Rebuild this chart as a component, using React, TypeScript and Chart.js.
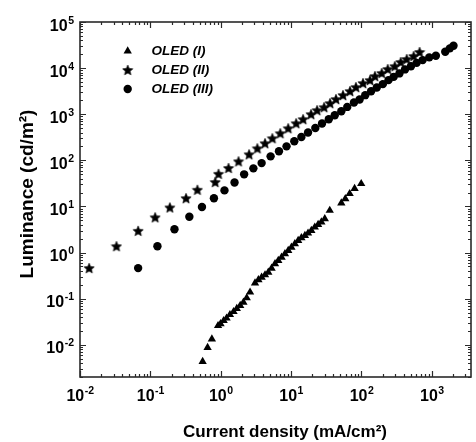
import React, { useEffect, useRef } from 'react';
import { Chart, registerables } from 'chart.js';

Chart.register(...registerables);

// ---- data (current density mA/cm², luminance cd/m²) ----
const oled1X = [0.553, 0.65, 0.748, 0.916, 0.993, 1.10, 1.21, 1.35, 1.52, 1.69, 1.89, 2.10, 2.34, 2.61, 3.07, 3.43, 3.81, 4.26, 4.74, 5.28, 5.90, 6.57, 7.32, 8.17, 9.10, 10.1, 11.3, 12.6, 14.0, 15.7, 17.4, 19.4, 21.7, 24.2, 26.9, 30.1, 35.4, 51.7, 58.9, 67.9, 79.8, 99.1];
const oled1Y = [0.00434, 0.0087, 0.0133, 0.0259, 0.0286, 0.0333, 0.0377, 0.0449, 0.0521, 0.0607, 0.0705, 0.0832, 0.1035, 0.138, 0.217, 0.255, 0.290, 0.327, 0.373, 0.456, 0.568, 0.670, 0.791, 0.937, 1.10, 1.30, 1.55, 1.82, 2.09, 2.34, 2.63, 3.01, 3.55, 4.06, 4.56, 5.41, 8.19, 11.8, 14.7, 18.9, 24.3, 31.1];

const oled2X = [0.0135, 0.033, 0.067, 0.117, 0.189, 0.321, 0.466, 0.835, 0.93, 1.29, 1.79, 2.53, 3.31, 4.26, 5.41, 7.02, 9.1, 11.8, 14.8, 19.2, 23.4, 29.4, 35.7, 43.4, 54.6, 68.6, 83.4, 105, 132, 155, 194, 236, 297, 361, 439, 551, 670];
const oled2Y = [0.46, 1.37, 2.96, 5.8, 9.5, 15.1, 23, 33.7, 51, 68, 95, 135, 182, 234, 301, 386, 496, 637, 778, 1000, 1220, 1420, 1730, 2120, 2590, 3160, 3860, 4720, 5480, 6700, 7790, 9510, 11000, 13500, 15700, 18200, 22300];

const oled3X = [0.067, 0.126, 0.22, 0.358, 0.541, 0.80, 1.13, 1.57, 2.15, 2.91, 3.81, 5.11, 6.72, 8.61, 11.1, 14.0, 17.4, 22.1, 27.5, 34.3, 41.7, 51.7, 62.8, 78.2, 94, 113, 137, 165, 201, 242, 287, 346, 415, 505, 608, 739, 918, 1140, 1550, 1800, 2030];
const oled3Y = [0.46, 1.37, 3.2, 5.97, 9.7, 15.1, 22.3, 33, 49.7, 67, 87, 122, 157, 201, 259, 321, 400, 504, 628, 778, 950, 1160, 1440, 1800, 2090, 2590, 3160, 3800, 4490, 5480, 6470, 7670, 9370, 11000, 13000, 14900, 17100, 18500, 22600, 26800, 30600];

const seriesLabels = ['OLED (I)', 'OLED (II)', 'OLED (III)'];
const xTickExponents = [-2, -1, 0, 1, 2, 3];
const yTickExponents = [-2, -1, 0, 1, 2, 3, 4, 5];
const xTitle = 'Current density (mA/cm²)';
const yTitle = 'Luminance (cd/m²)';
const xMin = 0.01;
const xMax = 3600;
const yMin = 0.002;
const yMax = 1e5;

const FONT = '"Liberation Sans", Arial, sans-serif';

function makeStar(size: number, outer: number, inner: number) {
  const c = document.createElement('canvas');
  c.width = size;
  c.height = size;
  const ctx = c.getContext('2d')!;
  ctx.fillStyle = '#000';
  ctx.strokeStyle = '#000';
  ctx.lineWidth = 0.6;
  ctx.lineJoin = 'round';
  ctx.beginPath();
  for (let i = 0; i < 10; i++) {
    const r = i % 2 === 0 ? outer : inner;
    const a = -Math.PI / 2 + (i * Math.PI) / 5;
    const px = size / 2 + r * Math.cos(a);
    const py = size / 2 + r * Math.sin(a) + 0.5;
    if (i === 0) ctx.moveTo(px, py);
    else ctx.lineTo(px, py);
  }
  ctx.closePath();
  ctx.fill();
  ctx.stroke();
  return c;
}

function toPoints(xs: number[], ys: number[]) {
  return xs.map((x, i) => ({ x, y: ys[i] }));
}

function supLabel(exp: number) {
  return exp < 0 ? '-' + Math.abs(exp) : String(exp);
}

export default function App() {
  const canvasRef = useRef<HTMLCanvasElement | null>(null);

  useEffect(() => {
    const canvas = canvasRef.current;
    if (!canvas) return;
    const star = makeStar(12, 5.4, 2.5);

    const axesPlugin = {
      id: 'framedAxes',
      afterDraw(chart: any) {
        const ctx = chart.ctx as CanvasRenderingContext2D;
        const { left, right, top, bottom } = chart.chartArea;
        const xs = chart.scales.x;
        const ys = chart.scales.y;
        ctx.save();
        ctx.strokeStyle = '#2a2a2a';
        ctx.lineWidth = 1.6;
        ctx.strokeRect(left, top, right - left, bottom - top);

        ctx.lineWidth = 1.2;
        ctx.beginPath();
        // x ticks (bottom and top, inward)
        for (let d = -3; d <= 4; d++) {
          for (let m = 1; m <= 9; m++) {
            const v = m * Math.pow(10, d);
            if (v < xMin * 0.999 || v > xMax * 1.001) continue;
            const px = Math.round(xs.getPixelForValue(v)) + 0.5;
            const len = m === 1 ? 6 : 3;
            ctx.moveTo(px, bottom);
            ctx.lineTo(px, bottom - len);
            ctx.moveTo(px, top);
            ctx.lineTo(px, top + len);
          }
        }
        // y ticks (left and right, inward)
        for (let d = -3; d <= 5; d++) {
          for (let m = 1; m <= 9; m++) {
            const v = m * Math.pow(10, d);
            if (v < yMin * 0.999 || v > yMax * 1.001) continue;
            const py = Math.round(ys.getPixelForValue(v)) + 0.5;
            const len = m === 1 ? 6 : 3;
            ctx.moveTo(left, py);
            ctx.lineTo(left + len, py);
            ctx.moveTo(right, py);
            ctx.lineTo(right - len, py);
          }
        }
        ctx.stroke();

        // tick labels
        ctx.fillStyle = '#000';
        const baseFont = `bold 16px ${FONT}`;
        const expFont = `bold 10.5px ${FONT}`;
        ctx.textBaseline = 'alphabetic';
        ctx.textAlign = 'left';
        for (const e of xTickExponents) {
          const px = xs.getPixelForValue(Math.pow(10, e));
          ctx.font = baseFont;
          const wb = ctx.measureText('10').width;
          ctx.font = expFont;
          const we = ctx.measureText(supLabel(e)).width;
          const x0 = px - (wb + we) / 2;
          ctx.font = baseFont;
          ctx.fillText('10', x0, 401);
          ctx.font = expFont;
          ctx.fillText(supLabel(e), x0 + wb + 0.5, 394);
        }
        for (const e of yTickExponents) {
          const py = ys.getPixelForValue(Math.pow(10, e));
          ctx.font = baseFont;
          const wb = ctx.measureText('10').width;
          ctx.font = expFont;
          const we = ctx.measureText(supLabel(e)).width;
          const xr = 74;
          const x0 = xr - we - wb - 0.5;
          ctx.font = baseFont;
          ctx.fillText('10', x0, py + 8.5);
          ctx.font = expFont;
          ctx.fillText(supLabel(e), x0 + wb + 0.5, py + 1.5);
        }

        // axis titles
        ctx.textAlign = 'center';
        ctx.textBaseline = 'alphabetic';
        ctx.font = `bold 17px ${FONT}`;
        ctx.fillText(xTitle, 285, 437);
        ctx.save();
        ctx.font = `bold 19px ${FONT}`;
        ctx.translate(33, 194);
        ctx.rotate(-Math.PI / 2);
        ctx.fillText(yTitle, 0, 0);
        ctx.restore();

        // legend
        const rows = [51, 70, 89];
        const mx = 127.7;
        ctx.fillStyle = '#000';
        ctx.beginPath();
        const r = 4.8;
        ctx.moveTo(mx, rows[0] - r);
        ctx.lineTo(mx + r * Math.sin((2 * Math.PI) / 3), rows[0] - r * Math.cos((2 * Math.PI) / 3));
        ctx.lineTo(mx + r * Math.sin((4 * Math.PI) / 3), rows[0] - r * Math.cos((4 * Math.PI) / 3));
        ctx.closePath();
        ctx.fill();
        ctx.drawImage(star, mx - star.width / 2, rows[1] - star.height / 2);
        ctx.beginPath();
        ctx.arc(mx, rows[2], 4.2, 0, Math.PI * 2);
        ctx.fill();
        ctx.font = `italic bold 13.5px ${FONT}`;
        ctx.textAlign = 'left';
        ctx.textBaseline = 'middle';
        seriesLabels.forEach((lab, i) => ctx.fillText(lab, 151.5, rows[i] + 0.5));
        ctx.restore();
      },
    };

    const chart = new Chart(canvas, {
      type: 'scatter',
      data: {
        datasets: [
          {
            label: seriesLabels[0],
            data: toPoints(oled1X, oled1Y),
            pointStyle: 'triangle',
            pointRadius: 4.8,
            backgroundColor: '#000',
            borderColor: '#000',
            borderWidth: 0,
          },
          {
            label: seriesLabels[1],
            data: toPoints(oled2X, oled2Y),
            pointStyle: star as any,
            pointRadius: 5,
            backgroundColor: '#000',
            borderColor: '#000',
            borderWidth: 0,
          },
          {
            label: seriesLabels[2],
            data: toPoints(oled3X, oled3Y),
            pointStyle: 'circle',
            pointRadius: 4.2,
            backgroundColor: '#000',
            borderColor: '#000',
            borderWidth: 0,
          },
        ],
      },
      options: {
        responsive: false,
        animation: false,
        devicePixelRatio: 1,
        layout: { padding: { left: 80, top: 22, right: 3, bottom: 65 } },
        scales: {
          x: { type: 'logarithmic', min: xMin, max: xMax, display: false },
          y: { type: 'logarithmic', min: yMin, max: yMax, display: false },
        },
        plugins: {
          legend: { display: false },
          tooltip: { enabled: false },
        },
      },
      plugins: [axesPlugin],
    });
    return () => chart.destroy();
  }, []);

  return (
    <div style={{ position: 'absolute', left: 0, top: 0, width: 476, height: 442, background: '#fff' }}>
      <canvas ref={canvasRef} width={476} height={442} style={{ display: 'block', width: 476, height: 442 }} />
    </div>
  );
}
